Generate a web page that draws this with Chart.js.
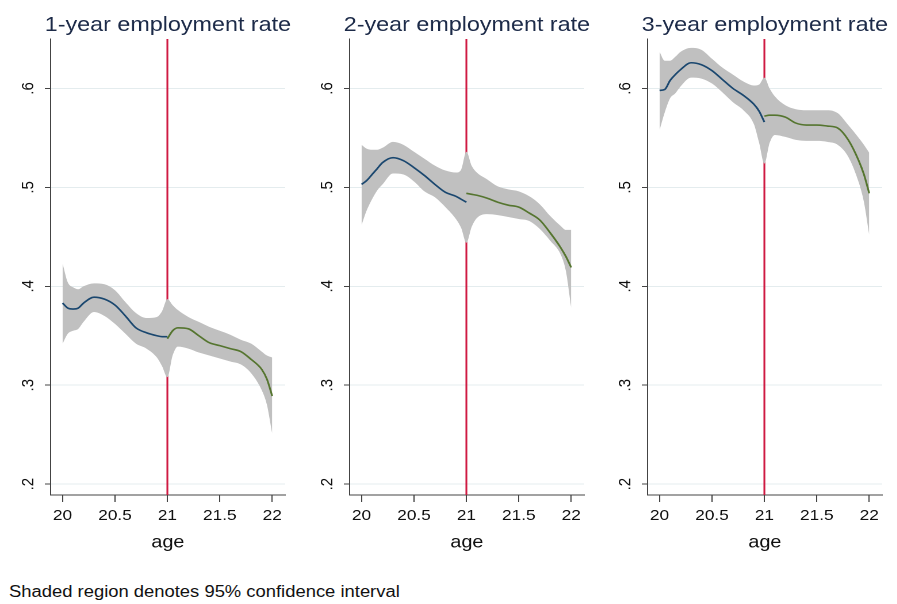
<!DOCTYPE html>
<html>
<head>
<meta charset="utf-8">
<script src="https://cdn.jsdelivr.net/npm/chart.js@4.4.1/dist/chart.umd.min.js"></script>
<style>
  html, body { margin: 0; padding: 0; background: #fff; }
  #wrap { position: relative; width: 897px; height: 604px; overflow: hidden; }
  /* the figure is laid out on a narrower grid and widened by 15% */
  .panel { position: absolute; top: 0; width: 258px; height: 560px; transform: scaleX(1.15); transform-origin: 0 0; }
  #note { position: absolute; left: 9px; top: 583px; font: 16px "Liberation Sans", Arial, sans-serif; color: #111;
          white-space: nowrap; transform: scaleX(1.15); transform-origin: 0 0; }
</style>
</head>
<body>
<div id="wrap">
  <div class="panel" style="left:0.4px"><canvas id="c1"></canvas></div>
  <div class="panel" style="left:299.4px"><canvas id="c2"></canvas></div>
  <div class="panel" style="left:597.4px"><canvas id="c3"></canvas></div>
  <div id="note">Shaded region denotes 95% confidence interval</div>
</div>
<script>
// Age grids: below the cutoff (20 to 21) and above it (21 to 22)
const agesBelow = [20, 20.05, 20.1, 20.15, 20.2, 20.3, 20.4, 20.5, 20.6, 20.7, 20.8, 20.9, 20.95, 21];
const agesAbove = [21, 21.05, 21.1, 21.2, 21.3, 21.4, 21.5, 21.6, 21.7, 21.8, 21.9, 21.95, 22];

const cutoffAge = 21;
const xTicks = [20, 20.5, 21, 21.5, 22];
const yTicks = [0.2, 0.3, 0.4, 0.5, 0.6];
const X_MIN = 19.886, X_MAX = 22.124;
const Y_MIN = 0.189, Y_MAX = 0.65;

const panelTitles = ['1-year employment rate', '2-year employment rate', '3-year employment rate'];

// 1-year employment rate
const rate1Below  = [0.383, 0.378, 0.377, 0.378, 0.383, 0.389, 0.387, 0.381, 0.370, 0.358, 0.353, 0.350, 0.349, 0.349];
const upper1Below = [0.423, 0.404, 0.399, 0.397, 0.400, 0.403, 0.402, 0.396, 0.384, 0.373, 0.368, 0.369, 0.375, 0.387];
const lower1Below = [0.342, 0.352, 0.355, 0.357, 0.364, 0.374, 0.370, 0.362, 0.352, 0.342, 0.337, 0.328, 0.319, 0.308];
const rate1Above  = [0.347, 0.355, 0.358, 0.357, 0.350, 0.343, 0.340, 0.337, 0.334, 0.326, 0.316, 0.306, 0.289];
const upper1Above = [0.387, 0.381, 0.376, 0.369, 0.364, 0.359, 0.355, 0.351, 0.346, 0.342, 0.334, 0.330, 0.328];
const lower1Above = [0.308, 0.330, 0.339, 0.337, 0.333, 0.330, 0.327, 0.324, 0.321, 0.312, 0.295, 0.280, 0.251];

// 2-year employment rate
const rate2Below  = [0.503, 0.507, 0.513, 0.519, 0.525, 0.530, 0.527, 0.520, 0.512, 0.503, 0.495, 0.491, 0.488, 0.485];
const upper2Below = [0.543, 0.539, 0.538, 0.538, 0.540, 0.546, 0.543, 0.536, 0.529, 0.522, 0.517, 0.515, 0.518, 0.536];
const lower2Below = [0.462, 0.477, 0.488, 0.497, 0.503, 0.514, 0.513, 0.506, 0.496, 0.490, 0.480, 0.468, 0.459, 0.444];
const rate2Above  = [0.494, 0.493, 0.492, 0.489, 0.485, 0.482, 0.480, 0.474, 0.467, 0.454, 0.439, 0.430, 0.419];
const upper2Above = [0.536, 0.522, 0.515, 0.508, 0.501, 0.498, 0.496, 0.491, 0.483, 0.471, 0.461, 0.457, 0.457];
const lower2Above = [0.444, 0.460, 0.469, 0.473, 0.472, 0.470, 0.468, 0.466, 0.458, 0.446, 0.432, 0.415, 0.378];

// 3-year employment rate
const rate3Below  = [0.598, 0.599, 0.608, 0.614, 0.619, 0.626, 0.624, 0.618, 0.609, 0.600, 0.593, 0.584, 0.577, 0.566];
const upper3Below = [0.637, 0.628, 0.628, 0.632, 0.637, 0.641, 0.639, 0.630, 0.621, 0.614, 0.607, 0.603, 0.604, 0.611];
const lower3Below = [0.558, 0.576, 0.590, 0.595, 0.602, 0.611, 0.610, 0.605, 0.596, 0.586, 0.578, 0.564, 0.545, 0.524];
const rate3Above  = [0.572, 0.573, 0.573, 0.571, 0.565, 0.563, 0.563, 0.562, 0.560, 0.548, 0.527, 0.513, 0.494];
const upper3Above = [0.611, 0.600, 0.592, 0.583, 0.579, 0.578, 0.578, 0.578, 0.575, 0.563, 0.550, 0.543, 0.535];
const lower3Above = [0.524, 0.545, 0.553, 0.551, 0.548, 0.547, 0.547, 0.546, 0.543, 0.531, 0.505, 0.485, 0.452];

const panels = [
  { id: 'c1', title: panelTitles[0], rb: rate1Below, ub: upper1Below, lb: lower1Below, ra: rate1Above, ua: upper1Above, la: lower1Above },
  { id: 'c2', title: panelTitles[1], rb: rate2Below, ub: upper2Below, lb: lower2Below, ra: rate2Above, ua: upper2Above, la: lower2Above },
  { id: 'c3', title: panelTitles[2], rb: rate3Below, ub: upper3Below, lb: lower3Below, ra: rate3Above, ua: upper3Above, la: lower3Above }
];

const COLORS = {
  below: '#1a476f',
  above: '#55752f',
  band: '#c0c0c0',
  cutoff: '#cf1a42',
  grid: '#e4ecee',
  axis: '#444',
  title: '#1c2a48',
  text: '#111'
};
const FONT = '"Liberation Sans", Arial, sans-serif';

const pts = (xs, ys) => xs.map((x, i) => ({ x: x, y: ys[i] }));
// join the two sides of the cutoff into one series (they share the point at 21)
const join = (a, b) => a.concat(b.slice(1));
const bandAges = join(agesBelow, agesAbove);

// Panel heading centred over the plotting area
const panelTitlePlugin = {
  id: 'panelTitle',
  afterDraw(chart, args, opts) {
    const { ctx, chartArea } = chart;
    ctx.save();
    ctx.font = '20.3px ' + FONT;
    ctx.fillStyle = COLORS.title;
    ctx.textAlign = 'center';
    ctx.textBaseline = 'alphabetic';
    ctx.fillText(opts.text, (chartArea.left + chartArea.right) / 2, 31);
    ctx.restore();
  }
};

function lineSet(xs, ys, color) {
  return { data: pts(xs, ys), borderColor: color, borderWidth: 1.6, pointRadius: 0,
    fill: false, cubicInterpolationMode: 'monotone', order: 1 };
}

panels.forEach(p => {
  const datasets = [
    lineSet(agesBelow, p.rb, COLORS.below),
    lineSet(agesAbove, p.ra, COLORS.above),
    // 95% confidence band: upper edge filled down to the lower edge
    { data: pts(bandAges, join(p.ub, p.ua)), borderWidth: 0, pointRadius: 0, backgroundColor: COLORS.band,
      borderColor: COLORS.band, fill: '+1', cubicInterpolationMode: 'monotone', order: 5 },
    { data: pts(bandAges, join(p.lb, p.la)), borderWidth: 0, pointRadius: 0, backgroundColor: COLORS.band,
      borderColor: COLORS.band, fill: false, cubicInterpolationMode: 'monotone', order: 5 },
    // cutoff marker at age 21, behind the band
    { data: [{ x: cutoffAge, y: Y_MIN }, { x: cutoffAge, y: Y_MAX }], borderColor: COLORS.cutoff,
      borderWidth: 1.6, pointRadius: 0, fill: false, order: 10 }
  ];

  new Chart(document.getElementById(p.id), {
    type: 'line',
    data: { datasets },
    plugins: [panelTitlePlugin],
    options: {
      responsive: true,
      maintainAspectRatio: false,
      animation: false,
      devicePixelRatio: 2,
      events: [],
      layout: { padding: { top: 39, right: 10, left: 0, bottom: 0 } },
      plugins: {
        legend: { display: false },
        tooltip: { enabled: false },
        panelTitle: { text: p.title }
      },
      scales: {
        x: {
          type: 'linear',
          min: X_MIN, max: X_MAX,
          afterBuildTicks: s => { s.ticks = xTicks.map(v => ({ value: v })); },
          afterFit: s => { s.height = 65; },
          grid: { drawOnChartArea: false, tickColor: COLORS.axis, tickLength: 7 },
          border: { display: true, color: COLORS.axis, width: 1 },
          ticks: { color: COLORS.text, font: { family: FONT, size: 15 }, padding: 5,
                   maxRotation: 0, callback: v => String(v) },
          title: { display: true, text: 'age', color: COLORS.text,
                   font: { family: FONT, size: 17.2 }, padding: { top: 2, bottom: 7 } }
        },
        y: {
          type: 'linear',
          min: Y_MIN, max: Y_MAX,
          afterBuildTicks: s => { s.ticks = yTicks.map(v => ({ value: v })); },
          afterFit: s => { s.width = 44; },
          grid: { color: COLORS.grid, tickColor: COLORS.axis, tickLength: 5, lineWidth: 1 },
          border: { display: true, color: COLORS.axis, width: 1 },
          ticks: { color: COLORS.text, font: { family: FONT, size: 15 }, padding: 8,
                   minRotation: 90, maxRotation: 90, crossAlign: 'center',
                   callback: v => v.toFixed(1).replace(/^0/, '') }
        }
      }
    }
  });
});
</script>
</body>
</html>
